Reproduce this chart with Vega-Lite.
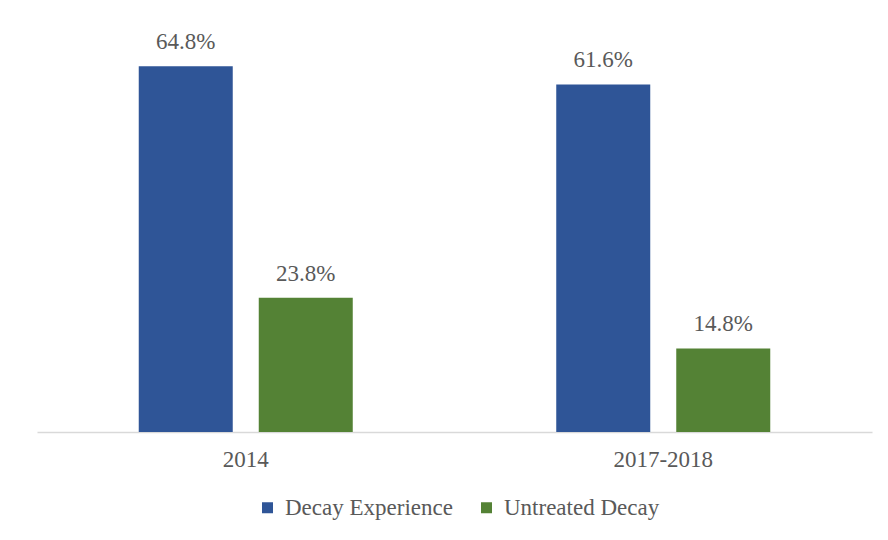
{
  "$schema": "https://vega.github.io/schema/vega-lite/v6.json",
  "autosize": {"type": "none"},
  "width": 835,
  "height": 395,
  "padding": {"left": 37, "top": 37, "right": 16, "bottom": 108},
  "background": "white",
  "data": {"values": [
    {"period": "2014", "measure": "Decay Experience", "value": 0.648},
    {"period": "2014", "measure": "Untreated Decay", "value": 0.238},
    {"period": "2017-2018", "measure": "Decay Experience", "value": 0.616},
    {"period": "2017-2018", "measure": "Untreated Decay", "value": 0.148}
  ]},
  "encoding": {
    "x": {"field": "period", "type": "nominal", "sort": null,
      "scale": {"paddingInner": 0.4874, "paddingOuter": 0.2437},
      "axis": {"title": null, "labelAngle": 0, "ticks": false, "domainColor": "#d9d9d9", "domainWidth": 1.5,
        "labelFont": "Liberation Serif", "labelFontSize": 23, "labelColor": "#595959", "labelPadding": 16}},
    "xOffset": {"field": "measure", "type": "nominal", "sort": null,
      "scale": {"paddingInner": 0.2167, "paddingOuter": 0}},
    "y": {"field": "value", "type": "quantitative", "scale": {"domain": [0, 0.7]}, "axis": null}
  },
  "layer": [
    {"mark": {"type": "bar"},
     "encoding": {"color": {"field": "measure", "type": "nominal", "sort": null,
       "scale": {"domain": ["Decay Experience", "Untreated Decay"], "range": ["#2F5597", "#548235"]},
       "legend": {"title": null, "orient": "none", "legendX": 219, "legendY": 459, "direction": "horizontal", "symbolType": "square", "symbolSize": 121,
         "labelFont": "Liberation Serif", "labelFontSize": 23, "labelColor": "#595959", "labelOffset": 6, "labelLimit": 0, "columnPadding": 22, "symbolStrokeWidth": 0}}}},
    {"mark": {"type": "text", "dy": -17, "baseline": "alphabetic", "font": "Liberation Serif", "fontSize": 23, "color": "#595959"},
     "encoding": {"text": {"field": "value", "type": "quantitative", "format": ".1%"}}}
  ],
  "config": {"view": {"stroke": null}}
}
